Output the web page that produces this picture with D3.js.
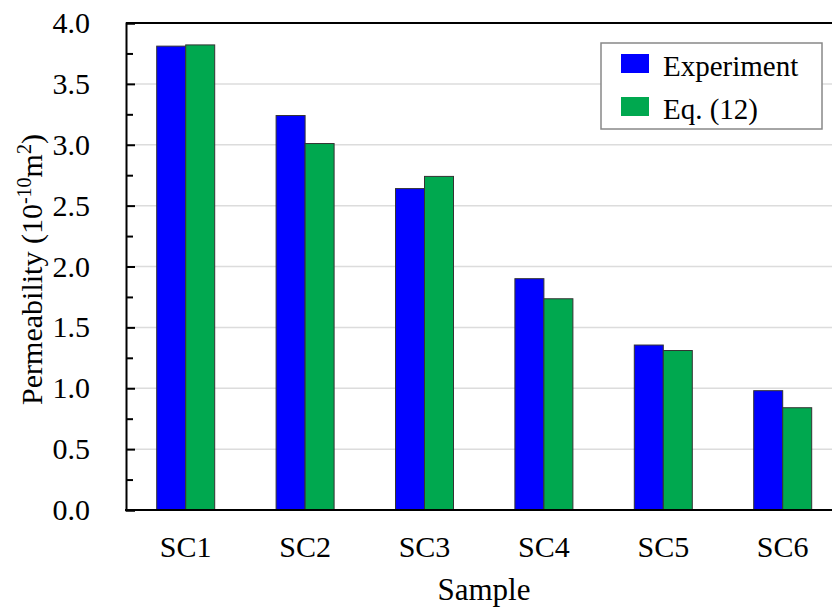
<!DOCTYPE html>
<html>
<head>
<meta charset="utf-8">
<script src="https://cdn.jsdelivr.net/npm/d3@7"></script>
<style>
  html, body { margin: 0; padding: 0; background: #fff; }
  svg { display: block; font-family: "Liberation Serif", "Times New Roman", serif; }
</style>
</head>
<body>
<svg id="chart" width="832" height="610"></svg>
<script>
const categories = ["SC1", "SC2", "SC3", "SC4", "SC5", "SC6"];
const seriesNames = ["Experiment", "Eq. (12)"];
const experiment = [3.81, 3.24, 2.64, 1.90, 1.355, 0.98];
const equation12 = [3.82, 3.01, 2.74, 1.735, 1.31, 0.84];
const majorTicks = [0.0, 0.5, 1.0, 1.5, 2.0, 2.5, 3.0, 3.5, 4.0];
const minorTicks = [0.25, 0.75, 1.25, 1.75, 2.25, 2.75, 3.25, 3.75];
const colors = ["#0000FF", "#00A84F"];

(function () {
const svg = d3.select("#chart");
const mLeft = 126, mTop = 23, mBottom = 510, mRight = 832;
const step = 119.4;
const FONT = "Liberation Serif, Times New Roman, serif";

const x = d3.scaleBand().domain(categories).range([mLeft, mLeft + step * categories.length]).padding(0);
const y = d3.scaleLinear().domain([0, 4]).range([mBottom, mTop]);
const barW = 29;
const x1 = d3.scaleBand().domain(seriesNames)
  .range([x.bandwidth() / 2 - barW, x.bandwidth() / 2 + barW]).padding(0);

// gridlines
svg.append("g").selectAll("line")
  .data(majorTicks.filter(d => d > 0 && d < 4))
  .join("line")
  .attr("x1", mLeft).attr("x2", mRight)
  .attr("y1", d => y(d)).attr("y2", d => y(d))
  .attr("stroke", "#dcdcdc").attr("stroke-width", 1.5);

// bars
const data = categories.map((c, i) => ({ cat: c, vals: [experiment[i], equation12[i]] }));
const groups = svg.append("g").selectAll("g").data(data).join("g")
  .attr("transform", d => `translate(${x(d.cat)},0)`);
groups.selectAll("rect")
  .data(d => d.vals.map((v, j) => ({ name: seriesNames[j], v, j })))
  .join("rect")
  .attr("x", d => x1(d.name))
  .attr("width", x1.bandwidth())
  .attr("y", d => y(d.v))
  .attr("height", d => y(0) - y(d.v))
  .attr("fill", d => colors[d.j])
  .attr("stroke", "#333")
  .attr("stroke-width", 1);

// top border
svg.append("line").attr("x1", mLeft).attr("x2", mRight).attr("y1", mTop).attr("y2", mTop)
  .attr("stroke", "#000").attr("stroke-width", 2);

// y axis major
const yAxis = d3.axisLeft(y).tickValues(majorTicks).tickFormat(d3.format(".1f"))
  .tickSize(-9).tickPadding(36);
const gy = svg.append("g").attr("transform", `translate(${mLeft},0)`).call(yAxis);
gy.select(".domain").attr("stroke", "#000").attr("stroke-width", 2);
gy.selectAll(".tick line").attr("stroke", "#000").attr("stroke-width", 2);
gy.selectAll(".tick text").attr("font-size", 30).attr("fill", "#000").attr("font-family", FONT);

// y axis minor
const yMinor = d3.axisLeft(y).tickValues(minorTicks).tickFormat("").tickSize(-7);
const gym = svg.append("g").attr("transform", `translate(${mLeft},0)`).call(yMinor);
gym.select(".domain").remove();
gym.selectAll(".tick line").attr("stroke", "#000").attr("stroke-width", 2);

// x axis
const xAxis = d3.axisBottom(x).tickSize(0).tickPadding(26);
const gx = svg.append("g").attr("transform", `translate(0,${mBottom})`).call(xAxis);
gx.select(".domain").remove();
gx.selectAll(".tick text").attr("font-size", 30).attr("fill", "#000").attr("font-family", FONT);
svg.append("line").attr("x1", mLeft - 1).attr("x2", mRight).attr("y1", mBottom).attr("y2", mBottom)
  .attr("stroke", "#000").attr("stroke-width", 2);

// axis titles
svg.append("text").attr("x", 484).attr("y", 600)
  .attr("text-anchor", "middle").attr("font-size", 31).text("Sample");

const yt = svg.append("text")
  .attr("transform", `translate(42,${(mTop + mBottom) / 2 + 3}) rotate(-90)`)
  .attr("text-anchor", "middle").attr("font-size", 30);
yt.append("tspan").text("Permeability  (10");
yt.append("tspan").attr("dy", -11).attr("font-size", 20).text("-10");
yt.append("tspan").attr("dy", 11).text("m");
yt.append("tspan").attr("dy", -11).attr("font-size", 20).text("2");
yt.append("tspan").attr("dy", 11).text(")");

// legend
const lg = svg.append("g");
lg.append("rect").attr("x", 601).attr("y", 43).attr("width", 221).attr("height", 86)
  .attr("fill", "#fff").attr("stroke", "#888").attr("stroke-width", 1.5);
seriesNames.forEach((n, i) => {
  const yy = 54 + i * 43;
  lg.append("rect").attr("x", 621).attr("y", yy).attr("width", 28).attr("height", 19)
    .attr("fill", colors[i]);
  lg.append("text").attr("x", 663).attr("y", yy + 22).attr("font-size", 29).text(n);
});
})();
</script>
</body>
</html>
